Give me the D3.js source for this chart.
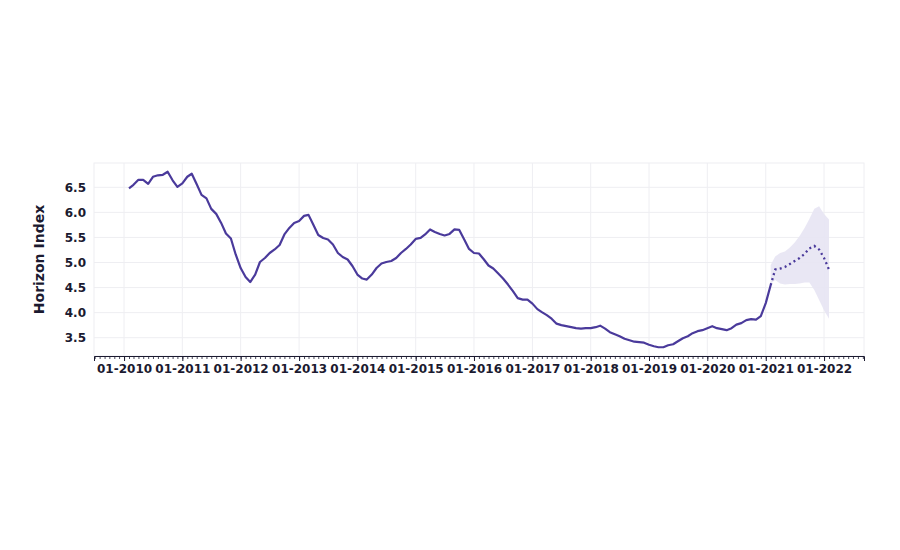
<!DOCTYPE html>
<html><head><meta charset="utf-8">
<script src="https://cdn.jsdelivr.net/npm/d3@7"></script>
<style>
html,body{margin:0;padding:0;background:#fff;}
svg{display:block;font-family:"DejaVu Sans",sans-serif;}
</style></head>
<body><svg id="chart" width="900" height="550"></svg>
<script>
// ---- data ----
const actualStart = "2010-02";
const actualValues = [
  6.48, 6.55, 6.65, 6.65, 6.57, 6.71, 6.74, 6.75, 6.81, 6.64, 6.51,
  6.58, 6.71, 6.77, 6.56, 6.35, 6.28, 6.07, 5.97, 5.79, 5.58, 5.48, 5.16,
  4.89, 4.71, 4.61, 4.76, 5.01, 5.09, 5.19, 5.26, 5.35, 5.56, 5.69, 5.79,
  5.83, 5.93, 5.95, 5.75, 5.55, 5.49, 5.46, 5.36, 5.19, 5.11, 5.06, 4.93,
  4.76, 4.68, 4.66, 4.76, 4.89, 4.98, 5.01, 5.03, 5.09, 5.19, 5.27, 5.36,
  5.47, 5.49, 5.56, 5.66, 5.61, 5.57, 5.54, 5.57, 5.66, 5.65, 5.46, 5.27,
  5.19, 5.18, 5.07, 4.94, 4.88, 4.78, 4.68, 4.56, 4.43, 4.29, 4.26, 4.26,
  4.18, 4.07, 4.01, 3.95, 3.88, 3.78, 3.75, 3.73, 3.71, 3.69, 3.68, 3.69,
  3.69, 3.71, 3.74, 3.68, 3.61, 3.57, 3.53, 3.48, 3.45, 3.42, 3.41, 3.40,
  3.36, 3.33, 3.31, 3.31, 3.35, 3.37, 3.43, 3.49, 3.53, 3.59, 3.63, 3.65,
  3.69, 3.73, 3.69, 3.67, 3.65, 3.69, 3.76, 3.79, 3.85, 3.87, 3.86, 3.93,
  4.19, 4.55
];
const forecastStart = "2021-02";
const forecastValues = [4.55, 4.86, 4.88, 4.91, 4.97, 5.03, 5.09, 5.17, 5.28, 5.33, 5.26, 5.09, 4.86];
const forecastUpper  = [4.95, 5.12, 5.19, 5.22, 5.30, 5.40, 5.53, 5.69, 5.87, 6.07, 6.12, 5.97, 5.86];
const forecastLower  = [4.58, 4.65, 4.58, 4.56, 4.57, 4.57, 4.58, 4.60, 4.60, 4.45, 4.25, 4.05, 3.88];
const yTicks = [3.5, 4.0, 4.5, 5.0, 5.5, 6.0, 6.5];
const yLabel = "Horizon Index";

// ---- build ----
const parse = d3.timeParse("%Y-%m");
function months(start, n){ const s = parse(start); return d3.range(n).map(i => d3.timeMonth.offset(s, i)); }
const actualDates = months(actualStart, actualValues.length);
const fcDates = months(forecastStart, forecastValues.length);
const actual = actualDates.map((d,i)=>({date:d, v:actualValues[i]}));
const fc = fcDates.map((d,i)=>({date:d, v:forecastValues[i], lo:forecastLower[i], hi:forecastUpper[i]}));

const M = {left:94, right:36, top:163, bottom:194};
const W = 900, H = 550;
const iw = W - M.left - M.right, ih = H - M.top - M.bottom;

const svg = d3.select("#chart");
const g = svg.append("g").attr("transform",`translate(${M.left},${M.top})`);

const allDates = actualDates.concat(fcDates);
const xExt = d3.extent(allDates);
const xPad = (xExt[1]-xExt[0])*0.05;
const x = d3.scaleTime().domain([new Date(+xExt[0]-xPad), new Date(+xExt[1]+xPad)]).range([0, iw]);

const yMin = d3.min([d3.min(actualValues), d3.min(forecastLower)]);
const yMax = d3.max([d3.max(actualValues), d3.max(forecastUpper)]);
const yPad = (yMax-yMin)*0.05;
const y = d3.scaleLinear().domain([yMin-yPad, yMax+yPad]).range([ih, 0]);

const textColor = "#1b1a30";
const gridColor = "#eeeef2";
const lineColor = "#4a3a9b";

// frame + grid
g.append("rect").attr("width",iw).attr("height",ih).attr("fill","none").attr("stroke",gridColor).attr("stroke-width",1);
const years = d3.timeYear.range(new Date(2010,0,1), new Date(2022,1,1));
g.append("g").selectAll("line").data(years).join("line")
  .attr("x1",d=>x(d)).attr("x2",d=>x(d)).attr("y1",0).attr("y2",ih)
  .attr("stroke",gridColor).attr("stroke-width",1);
g.append("g").selectAll("line").data(yTicks).join("line")
  .attr("x1",0).attr("x2",iw).attr("y1",d=>y(d)).attr("y2",d=>y(d))
  .attr("stroke",gridColor).attr("stroke-width",1);

// band
g.append("path").datum(fc)
  .attr("fill","#e7e4f3").attr("fill-opacity",0.9)
  .attr("d", d3.area().x(d=>x(d.date)).y0(d=>y(d.lo)).y1(d=>y(d.hi)));

// actual line
g.append("path").datum(actual)
  .attr("fill","none").attr("stroke",lineColor).attr("stroke-width",2.2)
  .attr("stroke-linejoin","round")
  .attr("d", d3.line().x(d=>x(d.date)).y(d=>y(d.v)));

// forecast dotted
g.append("path").datum(fc)
  .attr("fill","none").attr("stroke",lineColor).attr("stroke-width",2.3)
  .attr("stroke-dasharray","2,3.2")
  .attr("d", d3.line().x(d=>x(d.date)).y(d=>y(d.v)));

// x axis: minor monthly ticks
const xAxisG = g.append("g").attr("transform",`translate(0,${ih})`);
const monthsAll = d3.timeMonth.range(x.domain()[0], x.domain()[1]);
xAxisG.append("g").call(d3.axisBottom(x).tickValues(monthsAll).tickSize(3).tickFormat(""))
  .call(a=>a.select(".domain").remove())
  .selectAll("line").attr("stroke",textColor).attr("stroke-width",0.8);
const xAxis = xAxisG.append("g").call(d3.axisBottom(x).tickValues(years).tickSize(5).tickPadding(3).tickFormat(d3.timeFormat("%m-%Y")));
xAxis.select(".domain").attr("stroke",textColor).attr("stroke-width",1);
xAxis.selectAll(".tick line").attr("stroke",textColor);
xAxis.selectAll("text").attr("fill",textColor).attr("font-size",12).attr("font-weight","bold").attr("font-family","DejaVu Sans");

// y axis
const yAxis = g.append("g").call(d3.axisLeft(y).tickValues(yTicks).tickSize(0).tickPadding(8).tickFormat(d3.format(".1f")));
yAxis.select(".domain").remove();
yAxis.selectAll("text").attr("fill",textColor).attr("font-size",12).attr("font-weight","bold").attr("font-family","DejaVu Sans");

// y label
svg.append("text").attr("transform",`translate(44,${M.top+ih/2}) rotate(-90)`)
  .attr("text-anchor","middle").attr("fill",textColor)
  .attr("font-size",14).attr("font-weight","bold").attr("font-family","DejaVu Sans")
  .text(yLabel);
</script></body></html>
